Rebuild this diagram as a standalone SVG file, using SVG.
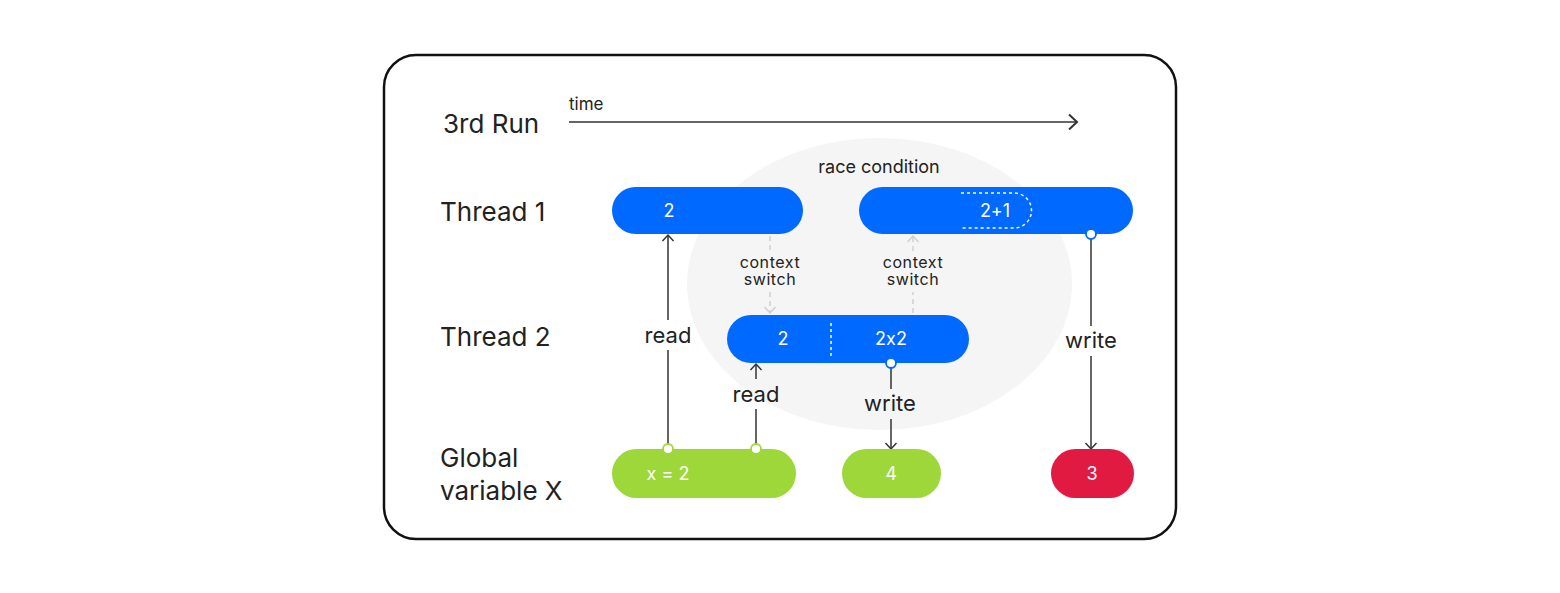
<svg xmlns="http://www.w3.org/2000/svg" width="1560" height="593" viewBox="0 0 1560 593">
<defs>
<style>
text{font-feature-settings:"calt" 0}
.lbl{font-family:Inter,"Noto Sans",sans-serif;fill:#222}
.mid{font-size:22px;text-anchor:middle}
.sm{font-size:18px;text-anchor:middle}
.cx{font-size:16px;text-anchor:middle;letter-spacing:0.6px}
.pt{font-family:Inter,"Noto Sans",sans-serif;font-size:18px;fill:#fff;text-anchor:middle}
.blue{fill:#0069FF}
.green{fill:#9ED73A}
.red{fill:#E01A41}
.ln{stroke:#333;stroke-width:1.5;fill:none}
.cs{stroke:#CFCFCF;stroke-width:1.5;fill:none;stroke-dasharray:5 4}
.dot{fill:#fff;stroke-width:1.8}
</style>
<marker id="ah" viewBox="-8 -7 10 14" markerWidth="10" markerHeight="14" refX="0" refY="0" orient="auto" markerUnits="userSpaceOnUse">
<path d="M-6,-5.5 L0,0 L-6,5.5" fill="none" stroke="#333" stroke-width="1.5"/>
</marker>
<marker id="ahg" viewBox="-8 -7 10 14" markerWidth="10" markerHeight="14" refX="0" refY="0" orient="auto" markerUnits="userSpaceOnUse">
<path d="M-6,-5.5 L0,0 L-6,5.5" fill="none" stroke="#CFCFCF" stroke-width="1.5"/>
</marker>
<marker id="aht" viewBox="-10 -8 12 16" markerWidth="12" markerHeight="16" refX="0" refY="0" orient="auto" markerUnits="userSpaceOnUse">
<path d="M-8,-7.5 L0,0 L-8,7.5" fill="none" stroke="#333" stroke-width="2"/>
</marker>
</defs>
<rect width="1560" height="593" fill="#fff"/>
<rect x="384" y="55" width="792" height="484" rx="32" fill="#fff" stroke="#111" stroke-width="2.5"/>
<ellipse cx="879.5" cy="284" rx="192.5" ry="146" fill="#F5F5F5"/>

<g id="labels">
<text class="lbl" x="443" y="133" font-size="26">3rd Run</text>
<text class="lbl" x="569" y="110" font-size="17">time</text>
<text class="lbl" x="440" y="221" font-size="26">Thread 1</text>
<text class="lbl" x="440" y="346" font-size="26">Thread 2</text>
<text class="lbl" x="440" y="467" font-size="26">Global</text>
<text class="lbl" x="440" y="500" font-size="26">variable X</text>
<text class="lbl sm" x="879" y="173">race condition</text>
</g>

<g id="connectors">
<line class="ln" x1="569" y1="122" x2="1077" y2="122" stroke-width="2" marker-end="url(#aht)"/>
<line class="ln" x1="668" y1="449" x2="668" y2="350"/>
<line class="ln" x1="668" y1="320" x2="668" y2="235" marker-end="url(#ah)"/>
<text class="lbl mid" x="668" y="343">read</text>
<line class="ln" x1="756" y1="449" x2="756" y2="409"/>
<line class="ln" x1="756" y1="379" x2="756" y2="364" marker-end="url(#ah)"/>
<text class="lbl mid" x="756" y="402">read</text>
<line class="ln" x1="891" y1="368" x2="891" y2="389"/>
<line class="ln" x1="891" y1="419" x2="891" y2="449" marker-end="url(#ah)"/>
<text class="lbl mid" x="890" y="411">write</text>
<line class="ln" x1="1091" y1="239" x2="1091" y2="326"/>
<line class="ln" x1="1091" y1="356" x2="1091" y2="449" marker-end="url(#ah)"/>
<text class="lbl mid" x="1091" y="348">write</text>
<line class="cs" x1="770" y1="236" x2="770" y2="251"/>
<line class="cs" x1="770" y1="292" x2="770" y2="313" marker-end="url(#ahg)"/>
<text class="lbl cx" x="770" y="268">context</text>
<text class="lbl cx" x="770" y="285">switch</text>
<line class="cs" x1="913" y1="313" x2="913" y2="292"/>
<line class="cs" x1="913" y1="251" x2="913" y2="236" marker-end="url(#ahg)"/>
<text class="lbl cx" x="913" y="268">context</text>
<text class="lbl cx" x="913" y="285">switch</text>
</g>

<g id="t1a">
<rect class="blue" x="612" y="187" width="191" height="47" rx="23.5"/>
<text class="pt" x="669" y="217">2</text>
</g>
<g id="t1b">
<rect class="blue" x="859" y="187" width="274" height="47" rx="23.5"/>
<path d="M961,193 H1014 A17.5,17.5 0 0 1 1014,228 H961" fill="none" stroke="#fff" stroke-width="1.5" stroke-dasharray="3 3"/>
<text class="pt" x="995" y="217">2+1</text>
<circle class="dot" cx="1091" cy="234" r="5" stroke="#0069FF"/>
</g>
<g id="t2">
<rect class="blue" x="727" y="315" width="242" height="48" rx="24"/>
<line x1="831" y1="323" x2="831" y2="356" stroke="#fff" stroke-width="1.5" stroke-dasharray="3 3"/>
<text class="pt" x="783" y="345">2</text>
<text class="pt" x="891" y="345">2x2</text>
<circle class="dot" cx="891" cy="363" r="5" stroke="#0069FF"/>
</g>
<g id="gx">
<rect class="green" x="612" y="449" width="184" height="49" rx="24.5"/>
<text class="pt" x="668" y="480">x = 2</text>
<circle class="dot" cx="668" cy="449" r="5" stroke="#9ED73A"/>
<circle class="dot" cx="756" cy="449" r="5" stroke="#9ED73A"/>
</g>
<g id="g4">
<rect class="green" x="842" y="449" width="99" height="49" rx="24.5"/>
<text class="pt" x="891" y="480">4</text>
</g>
<g id="g3">
<rect class="red" x="1051" y="449" width="83" height="49" rx="24.5"/>
<text class="pt" x="1092" y="480">3</text>
</g>
</svg>
